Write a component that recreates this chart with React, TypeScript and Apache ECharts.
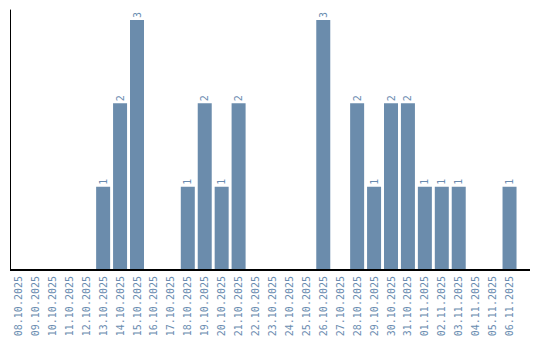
import React, { useEffect, useRef } from "react";
import * as echarts from "echarts";

const categories = [
  "08.10.2025", "09.10.2025", "10.10.2025", "11.10.2025", "12.10.2025",
  "13.10.2025", "14.10.2025", "15.10.2025", "16.10.2025", "17.10.2025",
  "18.10.2025", "19.10.2025", "20.10.2025", "21.10.2025", "22.10.2025",
  "23.10.2025", "24.10.2025", "25.10.2025", "26.10.2025", "27.10.2025",
  "28.10.2025", "29.10.2025", "30.10.2025", "31.10.2025", "01.11.2025",
  "02.11.2025", "03.11.2025", "04.11.2025", "05.11.2025", "06.11.2025",
];
const values = [
  0, 0, 0, 0, 0,
  1, 2, 3, 0, 0,
  1, 2, 1, 2, 0,
  0, 0, 0, 3, 0,
  2, 1, 2, 2, 1,
  1, 1, 0, 0, 1,
];

const BAR = "#6b8cac";
const TEXT = "#6a8cb0";
const FONT = "DejaVu Sans Mono";

export default function App() {
  const ref = useRef<HTMLDivElement>(null);
  useEffect(() => {
    if (!ref.current) return;
    const chart = echarts.init(ref.current, undefined, { renderer: "svg" });
    chart.setOption({
      animation: false,
      grid: { left: 10, right: 22, top: 10, bottom: 90, containLabel: false, outerBoundsMode: "none" },
      xAxis: {
        type: "category",
        data: categories,
        axisLine: { show: false },
        axisTick: { show: false },
        axisLabel: {
          rotate: 90,
          interval: 0,
          margin: 6,
          color: TEXT,
          fontFamily: FONT,
          fontSize: 10,
          overflow: "none",
          hideOverlap: false,
        },
      },
      yAxis: {
        type: "value",
        min: 0,
        max: 3.12,
        axisLine: { show: true, lineStyle: { color: "#000", width: 1 } },
        axisTick: { show: false },
        axisLabel: { show: false },
        splitLine: { show: false },
      },
      graphic: [
        {
          type: "line",
          shape: { x1: 10, y1: 270, x2: 530, y2: 270 },
          style: { stroke: "#000", lineWidth: 2 },
          z: 10,
        },
      ],
      series: [
        {
          type: "bar",
          data: values.map((v) => (v === 0 ? null : v)),
          barWidth: 14,
          itemStyle: { color: BAR },
          label: {
            show: true,
            position: "top",
            rotate: 90,
            align: "left",
            verticalAlign: "middle",
            distance: 2,
            color: TEXT,
            fontFamily: FONT,
            fontSize: 10,
          },
        },
      ],
    });
    return () => chart.dispose();
  }, []);
  return <div ref={ref} style={{ width: 540, height: 360, margin: -8 }} />;
}
